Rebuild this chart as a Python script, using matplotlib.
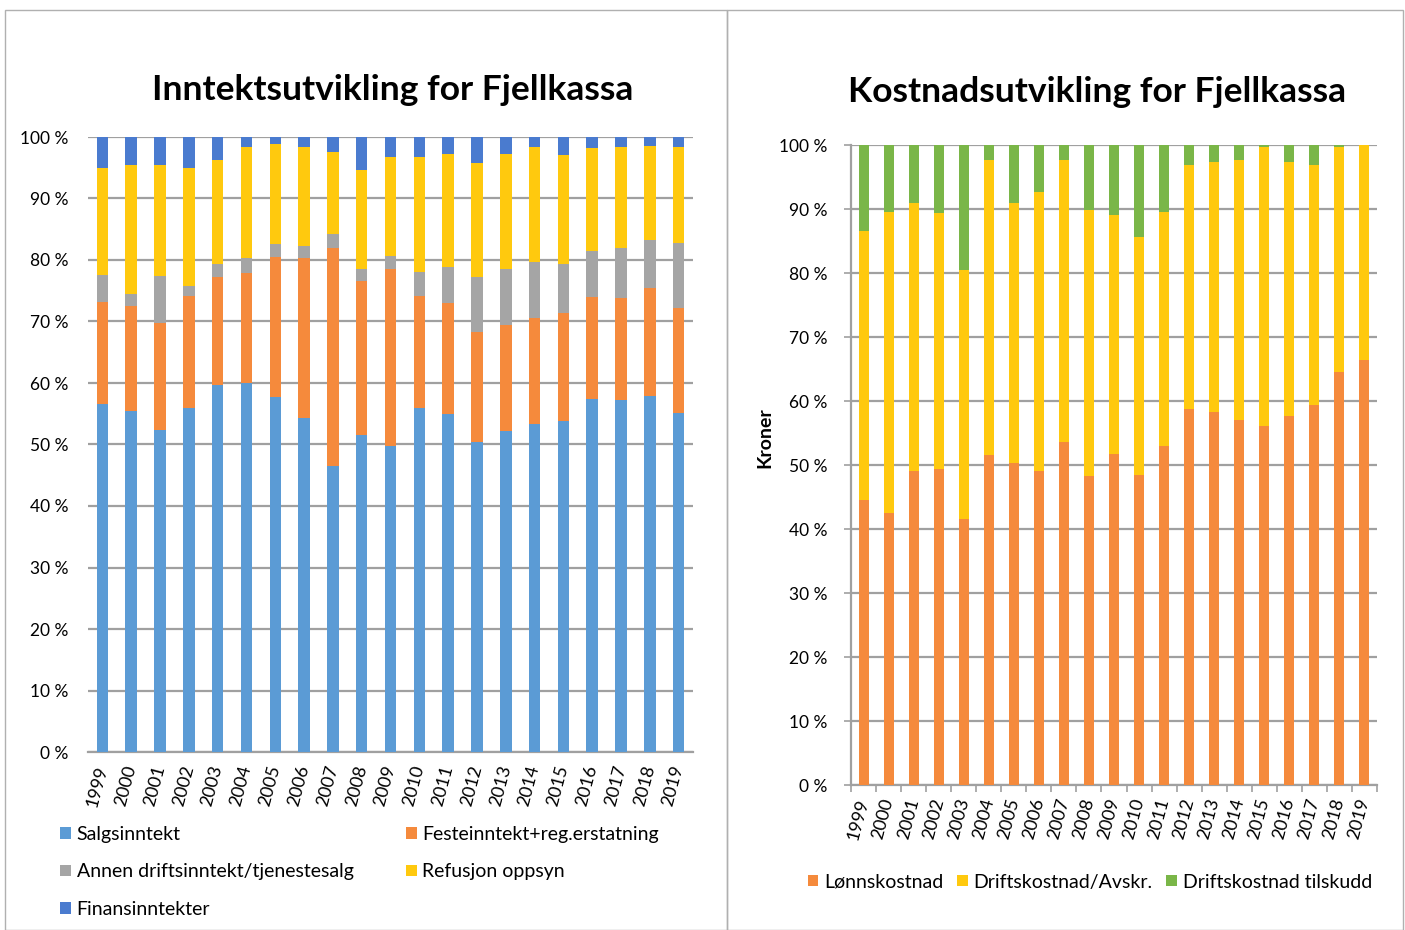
"""
Inntekts- og kostnadsutvikling for Fjellkassa, andeler per år (stablede søyler).
"""

import matplotlib.pyplot as plt
import numpy as np
from matplotlib.patches import Rectangle

plt.rcParams["font.family"] = ["Lato", "DejaVu Sans"]

years = [str(y) for y in range(1999, 2020)]

# Inntekter (prosent av total)
salgsinntekt = [56.6, 55.4, 52.4, 55.9, 59.7, 60.0, 57.8, 54.3, 46.5, 51.5, 49.7,
                55.9, 54.9, 50.4, 52.2, 53.3, 53.8, 57.4, 57.2, 57.9, 55.2]
festeinntekt = [16.5, 17.2, 17.4, 18.2, 17.5, 17.9, 22.7, 26.0, 35.4, 25.1, 28.9,
                18.2, 18.1, 17.9, 17.3, 17.2, 17.6, 16.6, 16.6, 17.5, 17.0]
annen_drift = [4.4, 1.8, 7.6, 1.7, 2.1, 2.4, 2.1, 2.0, 2.3, 2.0, 2.1,
               3.9, 5.8, 8.9, 9.0, 9.1, 7.9, 7.4, 8.2, 7.8, 10.5]
refusjon = [17.5, 21.0, 18.0, 19.1, 17.0, 18.0, 16.2, 16.1, 13.4, 16.0, 16.0,
            18.7, 18.4, 18.5, 18.7, 18.8, 17.7, 16.8, 16.3, 15.4, 15.6]
finans = [5.0, 4.6, 4.6, 5.1, 3.7, 1.7, 1.2, 1.6, 2.4, 5.4, 3.3,
          3.3, 2.8, 4.3, 2.8, 1.6, 3.0, 1.8, 1.7, 1.4, 1.7]

# Kostnader (prosent av total)
lonn = [44.5, 42.5, 49.1, 49.4, 41.6, 51.5, 50.3, 49.1, 53.6, 48.3, 51.7,
        48.5, 52.9, 58.8, 58.3, 57.0, 56.1, 57.6, 59.3, 64.6, 66.4]
drift = [42.1, 47.1, 41.8, 40.0, 38.9, 46.2, 40.7, 43.6, 44.0, 41.5, 37.4,
         37.2, 36.6, 38.0, 39.0, 40.7, 43.6, 39.8, 37.5, 35.1, 33.6]
tilskudd = [13.4, 10.4, 9.1, 10.6, 19.5, 2.3, 9.0, 7.3, 2.4, 10.2, 10.9,
            14.3, 10.5, 3.2, 2.7, 2.3, 0.3, 2.6, 3.2, 0.3, 0.0]

inntekt_series = [
    ("Salgsinntekt", salgsinntekt, "#5B9BD5"),
    ("Festeinntekt+reg.erstatning", festeinntekt, "#F58A3C"),
    ("Annen driftsinntekt/tjenestesalg", annen_drift, "#A5A5A5"),
    ("Refusjon oppsyn", refusjon, "#FFC90E"),
    ("Finansinntekter", finans, "#4A7BCF"),
]
kostnad_series = [
    ("Lønnskostnad", lonn, "#F58A3C"),
    ("Driftskostnad/Avskr.", drift, "#FFC90E"),
    ("Driftskostnad tilskudd", tilskudd, "#7AB648"),
]

W, H = 1405, 930
fig = plt.figure(figsize=(W / 100, H / 100), dpi=100)


def fx(px):
    return px / W


def fy(py):
    return 1 - py / H


# panel frames
fig.patches.append(Rectangle((fx(5), 0), fx(722), fy(10), transform=fig.transFigure,
                             fill=False, edgecolor="#b0b0b0", lw=1))
fig.patches.append(Rectangle((fx(727), 0), fx(676), fy(10), transform=fig.transFigure,
                             fill=False, edgecolor="#b0b0b0", lw=1))


def stacked(ax, series, grid_lw=1.6):
    x = np.arange(len(years))
    bottom = np.zeros(len(years))
    handles = []
    for name, vals, color in series:
        vals = np.array(vals)
        h = ax.bar(x, vals, 0.4, bottom=bottom, color=color, label=name, zorder=3)
        bottom += vals
        handles.append(h)
    ax.set_xlim(-0.5, len(years) - 0.5)
    ax.set_ylim(0, 100)
    ax.set_yticks(range(0, 101, 10))
    ax.set_yticklabels([f"{v} %" for v in range(0, 101, 10)])
    ax.yaxis.grid(True, color="#a0a0a0", lw=grid_lw, zorder=0)
    ax.set_xticks(x)
    ax.set_xticklabels(years, rotation=75, ha="right", va="center", rotation_mode="anchor",
                       fontsize=13)
    for s in ["top", "right", "left"]:
        ax.spines[s].set_visible(False)
    ax.spines["bottom"].set_color("#a0a0a0")
    ax.spines["bottom"].set_linewidth(grid_lw)
    return handles


# venstre: inntekter
ax1 = fig.add_axes([fx(88), fy(752), fx(693 - 88), (752 - 137) / H])
h1 = stacked(ax1, inntekt_series)
ax1.tick_params(axis="y", length=0, pad=14, labelsize=12.5)
ax1.tick_params(axis="x", length=0, pad=10)
fig.text(fx(393), fy(90), "Inntektsutvikling for Fjellkassa", ha="center", va="center",
         fontsize=25.5, fontweight="bold")
order = [0, 2, 4, 1, 3]
fig.legend([h1[i] for i in order], [inntekt_series[i][0] for i in order],
           loc="upper left", bbox_to_anchor=(fx(60), fy(826)), ncol=2, frameon=False,
           fontsize=14, handlelength=0.55, handleheight=0.55, handletextpad=0.3,
           labelspacing=1.05, columnspacing=2.7, borderpad=0, borderaxespad=0)

# høyre: kostnader
ax2 = fig.add_axes([fx(851), fy(785), fx(1377 - 851), (785 - 145) / H])
h2 = stacked(ax2, kostnad_series)
ax2.spines["left"].set_visible(True)
ax2.spines["left"].set_color("#a0a0a0")
ax2.spines["left"].set_linewidth(1.6)
ax2.tick_params(axis="y", length=5, width=1.2, color="#a0a0a0", pad=12, labelsize=12.5)
ax2.tick_params(axis="x", length=0, pad=10)
ax2.set_xticks(np.arange(-0.5, len(years)), minor=True)
ax2.tick_params(axis="x", which="minor", length=5, width=1.2, color="#a0a0a0")
fig.text(fx(1097), fy(92), "Kostnadsutvikling for Fjellkassa", ha="center", va="center",
         fontsize=25.5, fontweight="bold")
fig.text(fx(765), fy(438), "Kroner", rotation=90, ha="center", va="center",
         fontsize=14, fontweight="bold")
fig.legend(h2, [s[0] for s in kostnad_series], loc="center", bbox_to_anchor=(fx(1090), fy(882)),
           ncol=3, frameon=False, fontsize=14, handlelength=0.55, handleheight=0.55,
           handletextpad=0.3, columnspacing=0.7, borderpad=0, borderaxespad=0)

plt.savefig("out.png", dpi=100)
